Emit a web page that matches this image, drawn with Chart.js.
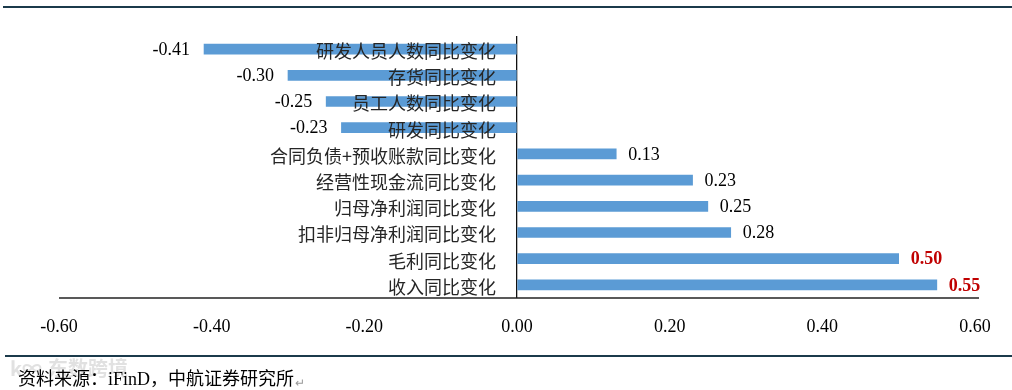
<!DOCTYPE html>
<html>
<head>
<meta charset="utf-8">
<script src="https://cdn.jsdelivr.net/npm/chart.js@4/dist/chart.umd.min.js"></script>
<style>
html,body{margin:0;padding:0;background:#fff;}
#wrap{position:relative;width:1012px;height:390px;}
</style>
</head>
<body>
<div id="wrap"><canvas id="c" width="1012" height="390"></canvas></div>
<script>
const categories = ['研发人员人数同比变化','存货同比变化','员工人数同比变化','研发同比变化','合同负债+预收账款同比变化','经营性现金流同比变化','归母净利润同比变化','扣非归母净利润同比变化','毛利同比变化','收入同比变化'];
const values = [-0.41, -0.30, -0.25, -0.23, 0.13, 0.23, 0.25, 0.28, 0.50, 0.55];
const highlighted = [false, false, false, false, false, false, false, false, true, true];
const xTicks = [-0.60, -0.40, -0.20, 0.00, 0.20, 0.40, 0.60];
const sourceText = '资料来源：iFinD，中航证券研究所';

const SERIF = '"Liberation Serif", "Times New Roman", serif';
const CJK = '"Noto Sans CJK SC", sans-serif';

const decor = {
  id: 'decor',
  beforeDraw(chart) {
    const ctx = chart.ctx;
    ctx.save();
    ctx.fillStyle = '#fff';
    ctx.fillRect(0, 0, chart.width, chart.height);
    ctx.strokeStyle = '#1b3a4b';
    ctx.lineWidth = 2;
    ctx.beginPath(); ctx.moveTo(3, 7); ctx.lineTo(1012, 7); ctx.stroke();
    ctx.beginPath(); ctx.moveTo(5, 356); ctx.lineTo(1012, 356); ctx.stroke();
    ctx.fillStyle = 'rgba(200,200,200,0.55)';
    ctx.font = 'bold 20px ' + CJK;
    ctx.textBaseline = 'middle';
    ctx.textAlign = 'left';
    ctx.fillText('k∞', 10, 368);
    ctx.fillText('东数跨境', 48, 368);
    ctx.restore();
  },
  afterDraw(chart) {
    const ctx = chart.ctx;
    const xs = chart.scales.x, ys = chart.scales.y;
    const area = chart.chartArea;
    const x0 = xs.getPixelForValue(0);
    ctx.save();
    ctx.strokeStyle = '#222';
    ctx.lineWidth = 1.5;
    ctx.beginPath(); ctx.moveTo(area.left, area.bottom); ctx.lineTo(area.right + 4, area.bottom); ctx.stroke();
    ctx.font = '18px ' + CJK;
    ctx.fillStyle = '#262626';
    ctx.textAlign = 'right';
    ctx.textBaseline = 'middle';
    categories.forEach((c, i) => {
      ctx.fillText(c, x0 - 21, ys.getPixelForValue(i) + 2);
    });
    values.forEach((v, i) => {
      const xp = xs.getPixelForValue(v);
      const yp = ys.getPixelForValue(i) + 1;
      ctx.font = (highlighted[i] ? 'bold ' : '') + '18px ' + SERIF;
      ctx.fillStyle = highlighted[i] ? '#C00000' : '#000';
      if (v < 0) { ctx.textAlign = 'right'; ctx.fillText(v.toFixed(2), xp - 14, yp); }
      else { ctx.textAlign = 'left'; ctx.fillText(v.toFixed(2), xp + 12, yp); }
    });
    ctx.textAlign = 'left';
    ctx.textBaseline = 'middle';
    ctx.fillStyle = '#000';
    ctx.font = '18px ' + SERIF + ', ' + CJK;
    ctx.fillText(sourceText, 18, 380);
    const w = ctx.measureText(sourceText).width;
    ctx.fillStyle = '#999';
    ctx.font = '12px ' + CJK;
    ctx.fillText('↵', 18 + w + 1, 382);
    ctx.restore();
  }
};

new Chart(document.getElementById('c'), {
  type: 'bar',
  data: {
    labels: categories,
    datasets: [{
      data: values,
      backgroundColor: '#5B9BD5',
      borderWidth: 0,
      barThickness: 10
    }]
  },
  options: {
    indexAxis: 'y',
    responsive: false,
    animation: false,
    events: [],
    layout: { padding: { left: 59, right: 37, top: 36, bottom: 34.4 } },
    plugins: { legend: { display: false }, tooltip: { enabled: false } },
    scales: {
      x: {
        min: -0.6, max: 0.6,
        afterBuildTicks(scale) { scale.ticks = xTicks.map(v => ({ value: v })); },
        border: { display: false },
        grid: {
          drawTicks: false,
          color: ctx => (ctx.tick && Math.abs(ctx.tick.value) < 1e-9) ? '#111' : 'rgba(0,0,0,0)',
          lineWidth: 1.3
        },
        ticks: {
          padding: 18,
          color: '#000',
          font: { family: SERIF, size: 18 },
          callback: v => Number(v).toFixed(2),
          maxRotation: 0
        }
      },
      y: { display: false }
    }
  },
  plugins: [decor]
});
</script>
</body>
</html>
